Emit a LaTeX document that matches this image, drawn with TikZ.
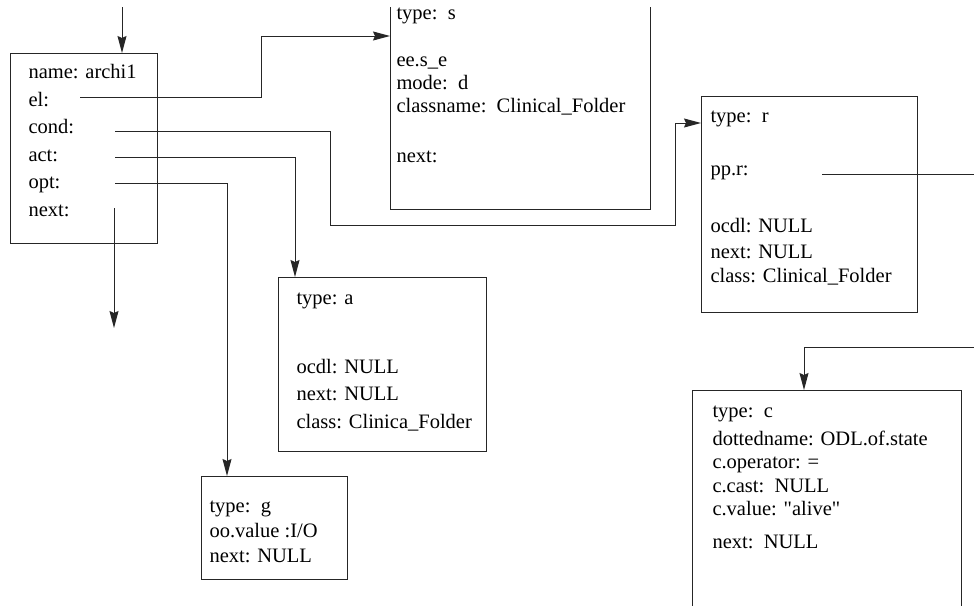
\documentclass[tikz,border=0pt]{standalone}
\usepackage{fontspec}
\setmainfont{Liberation Serif}
\usetikzlibrary{arrows.meta}

\begin{document}
\begin{tikzpicture}[x=1pt,y=-1pt,line width=1pt,draw=black!85,
    font=\fontsize{20.5}{24}\selectfont,
    recbox/.style={draw,inner sep=0pt,anchor=north west},
    openbox/.style={inner sep=0pt,anchor=north west},
    fld/.style={anchor=base west,inner sep=0pt},
    ptr/.style={-{Stealth[length=17pt,width=9pt,inset=2pt]}}]
      \useasboundingbox (0,0) rectangle (974,605);

      % record archi1
      \node[recbox,minimum width=147pt,minimum height=190pt] (archi) at (10,53) {};
      \node[fld] (an) at (28,78) {name: archi1};
      \node[fld] (ael) at (28,106) {el:};
      \node[fld] (acond) at (28,133) {cond:};
      \node[fld] (aact) at (28,161) {act:};
      \node[fld] (aopt) at (28,188) {opt:};
      \node[fld] (anext) at (28,216) {next:};

      % record s (top open)
      \node[openbox,minimum width=259pt,minimum height=201pt] (sbox) at (390,7) {};
      \draw (sbox.north west) |- (sbox.south east) -- (sbox.north east);
      \node[fld] (st) at (396,19) {type:\ \ s};
      \node[fld] (se) at (396,66) {ee.s\_e};
      \node[fld] (sm) at (396,89) {mode:\ \ d};
      \node[fld] (sc) at (396,112) {classname:\ \ Clinical\_Folder};
      \node[fld] (sn) at (396,162) {next:};

      % record r
      \node[recbox,minimum width=216pt,minimum height=216pt] (rbox) at (701,96) {};
      \node[fld] (rt) at (710,122) {type:\ \ r};
      \node[fld] (rp) at (710,175) {pp.r:};
      \node[fld] (ro) at (710,232) {ocdl: NULL};
      \node[fld] (rn) at (710,258) {next: NULL};
      \node[fld] (rc) at (710,282) {class: Clinical\_Folder};

      % record a
      \node[recbox,minimum width=208pt,minimum height=174pt] (abox) at (278,277) {};
      \node[fld] (at) at (296,304) {type: a};
      \node[fld] (ao) at (296,373) {ocdl: NULL};
      \node[fld] (an2) at (296,400) {next: NULL};
      \node[fld] (ac) at (296,428) {class: Clinica\_Folder};

      % record g
      \node[recbox,minimum width=146pt,minimum height=103pt] (gbox) at (201,476) {};
      \node[fld] (gt) at (209,512) {type:\ \ g};
      \node[fld] (gv) at (209,537) {oo.value :I/O};
      \node[fld] (gn) at (209,562) {next: NULL};

      % record c (bottom open)
      \node[openbox,minimum width=268pt,minimum height=215pt] (cbox) at (692,390) {};
      \draw (cbox.south west) |- (cbox.north east) -- (cbox.south east);
      \node[fld] (ct) at (712,417) {type:\ \ c};
      \node[fld] (cd) at (712,445) {dottedname: ODL.of.state};
      \node[fld] (co) at (712,468) {c.operator: =};
      \node[fld] (cc) at (712,492) {c.cast:\ \ NULL};
      \node[fld] (cv) at (712,515) {c.value: \textquotedbl alive\textquotedbl};
      \node[fld] (cn) at (712,548) {next:\ \ NULL};

      % pointers
      \coordinate (in) at (122,7);
      \draw[ptr] (in) -- (in |- archi.north);

      \coordinate (elp) at (80,97);
      \coordinate (elk) at (261,36);
      \draw[ptr] (elp) -| (elk) -- (elk -| sbox.west);

      \coordinate (condp) at (115,131);
      \coordinate (ck1) at (330,225);
      \coordinate (ck2) at (675,123);
      \draw[ptr] (condp) -| (ck1) -| (ck2) -- (ck2 -| rbox.west);

      \coordinate (actp) at (115,157);
      \draw[ptr] (actp) -| ([xshift=17pt]abox.north west);

      \coordinate (optp) at (115,183);
      \draw[ptr] (optp) -| ([xshift=26pt]gbox.north west);

      \coordinate (nextp) at (114,208);
      \coordinate (nexte) at (114,328);
      \draw[ptr] (nextp) -- (nexte);

      \coordinate (ppp) at (822,174);
      \coordinate (ppe) at (974,174);
      \draw (ppp) -- (ppe);
      \coordinate (ppb) at (974,347);
      \draw[ptr] (ppb) -| ([xshift=112pt]cbox.north west);
\end{tikzpicture}
\end{document}
